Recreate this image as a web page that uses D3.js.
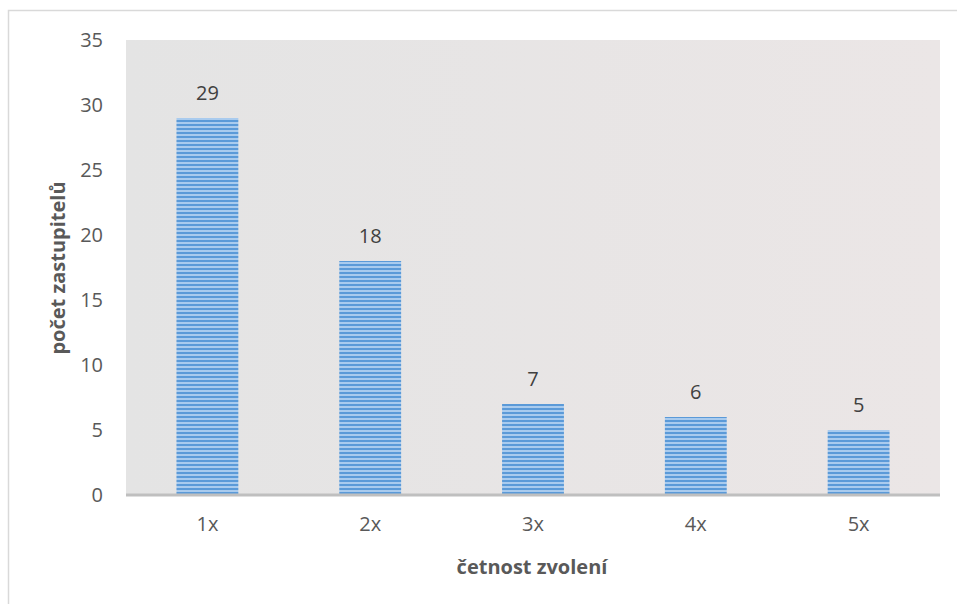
<!DOCTYPE html>
<html><head><meta charset="utf-8">
<script src="https://cdn.jsdelivr.net/npm/d3@7"></script>
<style>body{margin:0;background:#fff}svg{display:block}</style>
</head><body><svg id="c" width="957" height="604"></svg>
<script>
const categories = ["1x","2x","3x","4x","5x"];
const values = [29,18,7,6,5];
const yTicks = [0,5,10,15,20,25,30,35];
const xTitle = "četnost zvolení";
const yTitle = "počet zastupitelů";

const svg = d3.select("#c");
const font = "'Open Sans', 'Noto Sans', sans-serif";
const m = {l:126, r:940, t:40, b:495};

const defs = svg.append("defs");
const bg = defs.append("linearGradient").attr("id","bg").attr("x1","0").attr("x2","1");
bg.append("stop").attr("offset","0").attr("stop-color","#e4e4e4");
bg.append("stop").attr("offset","1").attr("stop-color","#ebe6e6");
const pat = defs.append("pattern").attr("id","stripes").attr("patternUnits","userSpaceOnUse")
  .attr("width",8).attr("height",4);
pat.append("rect").attr("width",8).attr("height",4).attr("fill","#a9cbee");
pat.append("rect").attr("y",0).attr("width",8).attr("height",2).attr("fill","#5b9ad8");

svg.append("rect").attr("x",8.5).attr("y",10.5).attr("width",960).attr("height",600)
  .attr("fill","none").attr("stroke","#d9d9d9").attr("stroke-width",1.5);

svg.append("rect").attr("x",m.l).attr("y",m.t).attr("width",m.r-m.l).attr("height",m.b-m.t).attr("fill","url(#bg)");

const x = d3.scaleBand().domain(categories).range([m.l,m.r]).paddingInner(0.62).paddingOuter(0.31);
const y = d3.scaleLinear().domain([0,35]).range([m.b,m.t]);

svg.append("g").selectAll("rect").data(values).join("rect")
  .attr("x",(d,i)=>x(categories[i])).attr("width",x.bandwidth())
  .attr("y",d=>y(d)).attr("height",d=>y(0)-y(d)).attr("fill","url(#stripes)");

svg.append("g").selectAll("text").data(values).join("text")
  .attr("x",(d,i)=>x(categories[i])+x.bandwidth()/2).attr("y",d=>y(d)-18)
  .attr("text-anchor","middle").attr("font-family",font).attr("font-size",20).attr("fill","#404040")
  .text(d=>d);

const yAxis = svg.append("g").attr("transform",`translate(${m.l},0)`)
  .call(d3.axisLeft(y).tickValues(yTicks).tickSize(0).tickPadding(23));
yAxis.select(".domain").remove();
yAxis.selectAll("text").attr("font-family",font).attr("font-size",20).attr("fill","#595959");

const xAxis = svg.append("g").attr("transform",`translate(0,${m.b})`)
  .call(d3.axisBottom(x).tickSize(0).tickPadding(22));
xAxis.select(".domain").attr("stroke","#bfbfbf").attr("stroke-width",3).attr("d",`M${m.l},0H${m.r}`);
xAxis.selectAll("text").attr("font-family",font).attr("font-size",20).attr("fill","#595959");

svg.append("text").attr("x",532).attr("y",574).attr("text-anchor","middle")
  .attr("font-family",font).attr("font-size",20).attr("font-weight","bold").attr("fill","#595959").text(xTitle);
svg.append("text").attr("transform",`translate(65,268) rotate(-90)`).attr("text-anchor","middle")
  .attr("font-family",font).attr("font-size",20).attr("font-weight","bold").attr("fill","#595959").text(yTitle);
</script></body></html>
